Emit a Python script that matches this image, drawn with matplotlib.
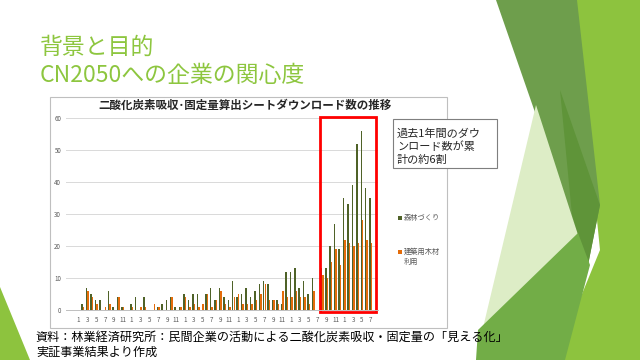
import numpy as np
import matplotlib
matplotlib.use('Agg')
from matplotlib import pyplot as plt
from matplotlib.patches import Polygon, Rectangle

plt.rcParams['font.family'] = ['Noto Sans CJK JP', 'DejaVu Sans']

# month of each category (5 years + 7 months)
months = [1, 2, 3, 4, 5, 6, 7, 8, 9, 10, 11, 12,
          1, 2, 3, 4, 5, 6, 7, 8, 9, 10, 11, 12,
          1, 2, 3, 4, 5, 6, 7, 8, 9, 10, 11, 12,
          1, 2, 3, 4, 5, 6, 7, 8, 9, 10, 11, 12,
          1, 2, 3, 4, 5, 6, 7, 8, 9, 10, 11, 12,
          1, 2, 3, 4, 5, 6, 7]

# 森林づくり
shinrin = [0, 2, 7, 5, 3, 3, 0, 6, 1, 4, 1, 0,
           2, 4, 0, 4, 0, 0, 1, 2, 3, 4, 1, 1,
           5, 3, 5, 5, 0, 5, 7, 3, 7, 4, 3, 9,
           4, 5, 7, 4, 6, 8, 9, 8, 3, 3, 2, 12,
           12, 13, 7, 9, 5, 10, 0, 13, 13, 20, 27, 19,
           35, 33, 39, 52, 56, 38, 35]

# 建築用木材利用
kenchiku = [0, 1, 6, 4, 2, 0, 1, 2, 0, 4, 1, 0,
            1, 0, 1, 1, 0, 2, 1, 0, 0, 4, 0, 1,
            4, 1, 2, 1, 2, 5, 1, 3, 6, 2, 1, 4,
            5, 2, 2, 2, 3, 5, 8, 3, 3, 2, 6, 4,
            4, 6, 4, 4, 2, 6, 0, 11, 10, 15, 19, 14,
            22, 21, 20, 21, 28, 22, 21]

green = '#4F6228'
orange = '#E46C0A'
W, H = 640, 360

fig = plt.figure(figsize=(6.4, 3.6), dpi=100)

# slide background layer, pixel coordinates
bg = fig.add_axes([0, 0, 1, 1])
bg.set_xlim(0, W)
bg.set_ylim(H, 0)
bg.axis('off')

bg.add_patch(Polygon([(575, 0), (640, 0), (640, 360), (555, 360), (600, 250)], color='#8DC33E', lw=0))
bg.add_patch(Polygon([(496, 0), (577, 0), (600, 205), (588, 265)], color='#6E9E4C', lw=0))
bg.add_patch(Polygon([(560, 90), (600, 205), (588, 265), (572, 215)], color='#5F9439', lw=0))
bg.add_patch(Polygon([(536, 105), (578, 235), (482, 332)], color='#DDEDC6', lw=0))
bg.add_patch(Polygon([(578, 233), (590, 265), (565, 360), (476, 360), (478, 330)], color='#72AD47', lw=0))
bg.add_patch(Polygon([(0, 287), (0, 360), (30, 360)], color='#8DC33E', lw=0))

# chart frame
bg.add_patch(Rectangle((50, 97), 397, 231, facecolor='white', edgecolor='#BFBFBF', lw=0.8))
# callout box
bg.add_patch(Rectangle((393, 119), 104, 49, facecolor='white', edgecolor='#7F7F7F', lw=0.8))
bg.text(397, 128, '過去1年間のダウ\nンロード数が累\n計の約6割', fontsize=8, color='#262626',
        va='top', ha='left', linespacing=1.35, transform=bg.transData)

# legend
bg.add_patch(Rectangle((398, 216), 4, 4, color=green, lw=0))
bg.text(404, 218, '森林づくり', fontsize=5.2, color='#595959', va='center')
bg.add_patch(Rectangle((398, 250), 4, 4, color=orange, lw=0))
bg.text(404, 252, '建築用木材', fontsize=5.2, color='#595959', va='center')
bg.text(404, 262, '利用', fontsize=5.2, color='#595959', va='center')

# titles and source
fig.text(40 / W, 1 - 47 / H, '背景と目的', fontsize=16.5, color='#8DC63F', va='center')
fig.text(40 / W, 1 - 75 / H, 'CN2050への企業の関心度', fontsize=16.5, color='#8DC63F', va='center')
fig.text(245 / W, 1 - 105 / H, '二酸化炭素吸収･固定量算出シートダウンロード数の推移',
         fontsize=8.3, fontweight='bold', color='#262626', ha='center', va='center')
fig.text(36 / W, 1 - 337 / H, '資料：林業経済研究所：民間企業の活動による二酸化炭素吸収・固定量の「見える化」',
         fontsize=8.7, color='black', va='center')
fig.text(36 / W, 1 - 352 / H, '実証事業結果より作成', fontsize=8.7, color='black', va='center')

# chart
ax = fig.add_axes([66 / W, 1 - 310 / H, 311.5 / W, 192 / H])
ax.patch.set_alpha(0)
x = np.arange(len(months))
ax.bar(x - 0.17, shinrin, width=0.33, color=green, lw=0)
ax.bar(x + 0.17, kenchiku, width=0.33, color=orange, lw=0)
ax.set_ylim(0, 60)
ax.set_yticks(range(0, 61, 10))
ax.set_xlim(-2.8, 67.5)
ax.set_xticks(x[::2])
ax.set_xticklabels([str(m) for m in months[::2]])
ax.tick_params(length=0, labelsize=4.5, labelcolor='#595959')
ax.tick_params(axis='y', pad=3.5)
ax.tick_params(axis='x', pad=4)
ax.grid(axis='y', color='#D9D9D9', lw=0.7)
ax.set_axisbelow(True)
for s in ['left', 'right', 'top']:
    ax.spines[s].set_visible(False)
ax.spines['bottom'].set_color('#BFBFBF')
ax.spines['bottom'].set_linewidth(0.7)

# last 12 months highlight
ax.add_patch(Rectangle((54.6, -0.6), 12.45, 60.8, fill=False, edgecolor='#FF0000', lw=2, clip_on=False))

fig.savefig('out.png', dpi=100)
